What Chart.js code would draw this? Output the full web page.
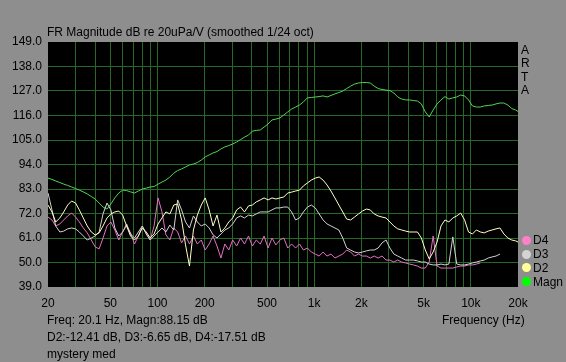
<!DOCTYPE html>
<html>
<head>
<meta charset="utf-8">
<script src="https://cdn.jsdelivr.net/npm/chart.js@4.4.1/dist/chart.umd.min.js"></script>
<style>
  html, body { margin: 0; padding: 0; background: #8e8e8e; }
  #wrap { position: relative; width: 566px; height: 362px; overflow: hidden; }
  #wrap canvas { position: absolute; left: 0; top: 0; }
  .t { position: absolute; font: 12px "Liberation Sans", Arial, sans-serif; color: #000; line-height: 14px; white-space: nowrap; }
  .dot { position: absolute; width: 9px; height: 9px; border-radius: 50%; }
</style>
</head>
<body>
<div id="wrap">
  <canvas id="fr" width="566" height="362"></canvas>
  <div class="t" style="left:47px; top:25px;">FR Magnitude dB re 20uPa/V (smoothed 1/24 oct)</div>
  <div class="t" style="left:521px; top:43px;">A</div>
  <div class="t" style="left:521px; top:56px;">R</div>
  <div class="t" style="left:521px; top:70px;">T</div>
  <div class="t" style="left:521px; top:83px;">A</div>
  <div class="dot" style="left:522px; top:236px; background:#ff80c8;"></div>
  <div class="t" style="left:533px; top:233px;">D4</div>
  <div class="dot" style="left:522px; top:250px; background:#d4d4d4;"></div>
  <div class="t" style="left:533px; top:247px;">D3</div>
  <div class="dot" style="left:522px; top:263px; background:#ffff98;"></div>
  <div class="t" style="left:533px; top:261px;">D2</div>
  <div class="dot" style="left:522px; top:277px; background:#00ff00;"></div>
  <div class="t" style="left:533px; top:275px;">Magn</div>
  <div class="t" style="left:442px; top:313px;">Frequency (Hz)</div>
  <div class="t" style="left:47px; top:313px;">Freq: 20.1 Hz, Magn:88.15 dB</div>
  <div class="t" style="left:47px; top:330px;">D2:-12.41 dB, D3:-6.65 dB, D4:-17.51 dB</div>
  <div class="t" style="left:47px; top:347px;">mystery med</div>
</div>
<script>
// 1/12 octave frequency points (Hz)
const freqs = [
  20, 21.2, 22.4, 23.8, 25.2, 26.7, 28.3, 30, 31.7, 33.6, 35.6, 37.8,
  40, 42.4, 44.9, 47.6, 50.4, 53.4, 56.6, 59.9, 63.5, 67.3, 71.3, 75.5,
  80, 84.8, 89.8, 95.1, 100.8, 106.8, 113.1, 119.9, 127, 134.5, 142.5, 151,
  160, 169.5, 179.6, 190.3, 201.6, 213.6, 226.3, 239.7, 254, 269.1, 285.1, 302,
  320, 339, 359, 381, 403, 427, 453, 479, 508, 538, 570, 604,
  640, 678, 718, 761, 806, 854, 905, 959, 1016, 1076, 1140, 1208,
  1280, 1356, 1437, 1522, 1613, 1709, 1810, 1918, 2032, 2153, 2281, 2416,
  2560, 2712, 2874, 3044, 3225, 3417, 3620, 3836, 4064, 4305, 4561, 4833,
  5120, 5424, 5747, 6089, 6451, 6834, 7241, 7671, 8127, 8611, 9123, 9665,
  10240, 10849, 11494, 12177, 12902, 13669, 14482, 15343, 16255, 17222, 18246, 19331, 20000
];

// dB values
const magn = [
  87.9, 87.3, 86.6, 85.9, 85.2, 84.6, 83.9, 83.2, 82.5, 81.7, 80.8, 79.6,
  78.5, 76.7, 74.9, 74.0, 76.3, 79.0, 81.2, 82.5, 82.3, 81.7, 81.2, 82.1,
  83.0, 83.4, 83.9, 84.1, 85.2, 86.1, 87.0, 88.4, 90.1, 91.3, 92.0, 92.9,
  93.8, 94.2, 94.9, 96.0, 97.4, 98.3, 99.2, 99.8, 101.0, 101.9, 102.5, 103.2,
  104.1, 105.2, 106.3, 107.2, 109.0, 109.3, 109.5, 110.8, 112.2, 114.0, 114.4, 114.9,
  116.2, 117.6, 118.9, 119.8, 120.7, 122.1, 123.9, 124.1, 124.3, 124.5, 124.8, 124.3,
  125.0, 125.7, 126.3, 127.0, 128.1, 129.2, 130.1, 130.6, 130.8, 130.8, 130.6, 129.2,
  128.1, 127.7, 127.4, 127.2, 126.1, 124.3, 123.4, 123.0, 123.0, 122.7, 122.5, 121.2,
  117.6, 115.3, 118.5, 121.2, 123.0, 124.5, 123.4, 123.9, 124.3, 125.2, 124.8, 123.0,
  120.3, 119.8, 119.8, 120.3, 120.5, 120.7, 121.2, 121.6, 121.6, 120.7, 119.1, 118.5, 117.8
];
const d2 = [
  75.8, 72.7, 68.2, 70.0, 72.7, 75.8, 77.6, 76.7, 73.6, 70.0, 66.4, 63.7,
  62.4, 63.3, 66.4, 70.0, 71.8, 72.7, 73.1, 71.3, 66.4, 61.9, 60.1, 61.9,
  65.5, 63.7, 61.0, 62.8, 67.3, 70.0, 72.7, 71.8, 75.8, 76.3, 69.1, 57.9,
  48.4, 64.6, 71.3, 75.8, 79.0, 73.6, 66.4, 71.3, 63.7, 65.5, 68.2, 70.0,
  73.6, 74.9, 72.7, 75.4, 75.8, 77.2, 78.1, 79.0, 78.1, 79.0, 78.5, 79.0,
  79.4, 81.2, 81.6, 82.1, 82.5, 84.4, 85.7, 87.0, 87.9, 88.4, 87.0, 84.8,
  82.1, 79.0, 75.8, 72.7, 69.5, 69.1, 70.4, 71.8, 73.1, 74.0, 73.6, 71.8,
  70.9, 70.4, 70.0, 68.2, 66.4, 65.1, 64.6, 64.1, 63.7, 63.7, 63.7, 61.0,
  55.6, 51.6, 54.7, 59.2, 66.4, 69.1, 68.2, 70.0, 70.9, 72.2, 69.1, 63.7,
  62.8, 64.6, 63.7, 63.3, 64.1, 64.6, 65.1, 65.5, 62.8, 61.0, 60.1, 59.7, 59.2
];
const d3 = [
  81.2, 73.6, 66.4, 63.7, 64.1, 65.1, 65.5, 65.1, 63.7, 61.9, 60.1, 61.0,
  61.9, 63.7, 71.8, 76.7, 73.6, 65.5, 61.9, 63.7, 67.3, 62.8, 61.0, 63.7,
  66.4, 62.8, 60.1, 61.9, 63.7, 65.5, 63.7, 66.8, 64.6, 78.1, 73.6, 68.2,
  65.5, 70.9, 68.2, 66.4, 67.3, 65.5, 62.4, 61.0, 62.8, 64.6, 65.5, 67.3,
  70.0, 70.9, 70.0, 71.3, 70.9, 71.8, 72.7, 72.7, 72.7, 73.6, 74.5, 74.5,
  74.9, 74.9, 72.7, 69.1, 70.0, 72.7, 74.9, 75.8, 74.5, 71.8, 69.1, 67.3,
  66.4, 65.5, 64.6, 61.0, 56.5, 55.6, 54.7, 54.3, 54.7, 55.2, 55.6, 55.6,
  56.5, 58.8, 60.1, 56.5, 53.8, 52.9, 52.0, 51.1, 51.1, 51.1, 50.7, 50.2,
  50.2, 49.3, 48.9, 48.9, 49.3, 48.9, 49.3, 61.5, 49.3, 48.9, 48.9, 49.3,
  49.8, 50.2, 50.7, 51.1, 52.0, 52.5, 52.9, 53.8
];
const d4 = [
  70.4, 69.1, 66.4, 67.3, 69.1, 70.9, 72.2, 70.4, 68.2, 65.5, 63.3, 60.1,
  57.0, 56.1, 61.0, 66.4, 68.2, 64.6, 60.1, 63.7, 66.4, 63.3, 58.3, 61.9,
  66.4, 62.8, 60.1, 66.4, 79.0, 72.7, 62.4, 60.1, 65.5, 63.7, 58.8, 61.9,
  58.3, 61.9, 58.3, 60.1, 55.6, 58.3, 61.9, 57.4, 52.0, 58.3, 55.6, 60.1,
  57.4, 61.0, 58.3, 61.9, 57.4, 60.1, 58.3, 61.9, 56.5, 61.0, 57.9, 60.1,
  61.0, 56.5, 58.3, 56.5, 58.3, 55.6, 56.5, 54.7, 53.8, 52.9, 54.7, 52.9,
  53.8, 52.0, 52.9, 53.8, 55.6, 54.7, 52.9, 53.8, 52.9, 52.9, 52.0, 52.9,
  52.0, 52.9, 51.1, 51.1, 50.2, 51.1, 50.2, 49.8, 49.3, 48.9, 48.4, 47.5,
  47.5, 50.2, 61.9, 48.4, 47.5, 47.5, 47.5, 47.5, 48.0, 48.4, 48.4, 48.9,
  48.9, 49.3, 49.8
];

const xGrid = [20, 30, 40, 50, 60, 70, 80, 90, 100, 200, 300, 400, 500, 600, 700, 800, 900,
  1000, 2000, 3000, 4000, 5000, 6000, 7000, 8000, 9000, 10000, 20000];
const xTickValues = [20, 50, 100, 200, 500, 1000, 2000, 5000, 10000, 20000];
const xTickText = ['20', '50', '100', '200', '500', '1k', '2k', '5k', '10k', '20k'];
const yTicks = [39, 50, 61, 72, 83, 94, 105, 116, 127, 138, 149];

const pts = (arr) => arr.map((v, i) => ({ x: freqs[i], y: v }));

const GRID = 'rgb(38,104,38)';
const FONT = { family: '"Liberation Sans", Arial, sans-serif', size: 12 };

const backdrop = {
  id: 'backdrop',
  beforeDraw(chart) {
    const { ctx, chartArea: a } = chart;
    ctx.save();
    ctx.fillStyle = '#8e8e8e';
    ctx.fillRect(0, 0, chart.width, chart.height);
    ctx.fillStyle = '#000';
    ctx.fillRect(a.left, a.top, a.right - a.left, a.bottom - a.top);
    ctx.restore();
  },
};

const line = (label, data, color) => ({
  label, data: pts(data), borderColor: color, borderWidth: 1,
  pointRadius: 0, tension: 0, fill: false, spanGaps: false,
});

new Chart(document.getElementById('fr'), {
  type: 'line',
  data: {
    datasets: [
      line('D2', d2, '#ffffc4'),
      line('D3', d3, '#d2d2d2'),
      line('D4', d4, '#e270c4'),
      line('Magn', magn, '#52d452'),
    ],
  },
  options: {
    responsive: false,
    animation: false,
    events: [],
    layout: { padding: { left: 0, top: 42, right: 48, bottom: 0 } },
    plugins: { legend: { display: false }, tooltip: { enabled: false } },
    scales: {
      x: {
        type: 'logarithmic', min: 20, max: 20000,
        border: { display: false },
        grid: {
          drawTicks: false,
          color: (c) => (c.tick && (c.tick.value === 20 || c.tick.value === 20000) ? 'rgba(0,0,0,0)' : GRID),
        },
        afterBuildTicks: (s) => { s.ticks = xGrid.map((v) => ({ value: v })); },
        afterFit: (s) => { s.height = 75; },
        ticks: {
          autoSkip: false, maxRotation: 0, padding: 9, color: '#000', font: FONT,
          callback: (v) => { const i = xTickValues.indexOf(v); return i >= 0 ? xTickText[i] : ''; },
        },
      },
      y: {
        min: 39, max: 149,
        border: { display: false },
        grid: {
          drawTicks: false,
          color: (c) => (c.tick && (c.tick.value === 39 || c.tick.value === 149) ? 'rgba(0,0,0,0)' : GRID),
        },
        afterBuildTicks: (s) => { s.ticks = yTicks.map((v) => ({ value: v })); },
        afterFit: (s) => { s.width = 48; },
        ticks: { padding: 6, color: '#000', font: FONT, callback: (v) => Number(v).toFixed(1) },
      },
    },
  },
  plugins: [backdrop],
});
</script>
</body>
</html>
